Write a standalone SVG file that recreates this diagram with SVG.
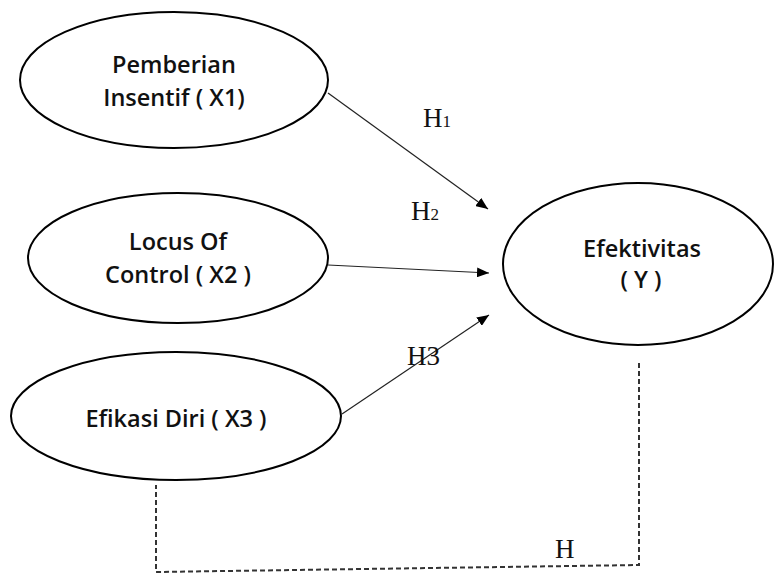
<svg xmlns="http://www.w3.org/2000/svg" width="774" height="573" viewBox="0 0 774 573">
<style>
.node ellipse{fill:#fff;stroke:#000;stroke-width:2}
.lbl{font-family:"Open Sans","Liberation Sans",sans-serif;font-weight:600;font-size:23.5px;fill:#111;text-anchor:middle}
.h{font-family:"Liberation Serif","Times New Roman",serif;font-size:27px;fill:#111}
.sub{font-size:17px}
.arr{stroke:#222;stroke-width:1.2;fill:none;marker-end:url(#ah)}
.dash{stroke:#333;stroke-width:2;fill:none;stroke-dasharray:5 3}
</style>
<defs>
<marker id="ah" viewBox="0 0 12 10" refX="12" refY="5" markerWidth="12" markerHeight="10" markerUnits="userSpaceOnUse" orient="auto">
<path d="M0,0 L12,5 L0,10 Z" fill="#000"/>
</marker>
</defs>
<g id="connectors">
<line class="arr" x1="328" y1="93" x2="488" y2="209"/>
<line class="arr" x1="328" y1="265" x2="489" y2="273"/>
<line class="arr" x1="342" y1="414" x2="489" y2="315"/>
<polyline class="dash" points="639,363 639,565 156,572 156,485"/>
<text class="h" x="423" y="127">H<tspan class="sub">1</tspan></text>
<text class="h" x="411" y="220">H<tspan class="sub">2</tspan></text>
<text class="h" x="407" y="365">H3</text>
<text class="h" x="555" y="558">H</text>
</g>
<g id="x1" class="node">
<ellipse cx="174" cy="80" rx="154" ry="68"/>
<text class="lbl" x="174" y="73">Pemberian</text>
<text class="lbl" x="174" y="106">Insentif ( X1)</text>
</g>
<g id="x2" class="node">
<ellipse cx="178" cy="258" rx="150" ry="65"/>
<text class="lbl" x="178" y="250">Locus Of</text>
<text class="lbl" x="178" y="283">Control ( X2 )</text>
</g>
<g id="x3" class="node">
<ellipse cx="176" cy="416" rx="165" ry="64"/>
<text class="lbl" x="176" y="427">Efikasi Diri ( X3 )</text>
</g>
<g id="y" class="node">
<ellipse cx="638" cy="264" rx="135" ry="81"/>
<text class="lbl" x="642" y="257">Efektivitas</text>
<text class="lbl" x="641" y="288">( Y )</text>
</g>
</svg>
